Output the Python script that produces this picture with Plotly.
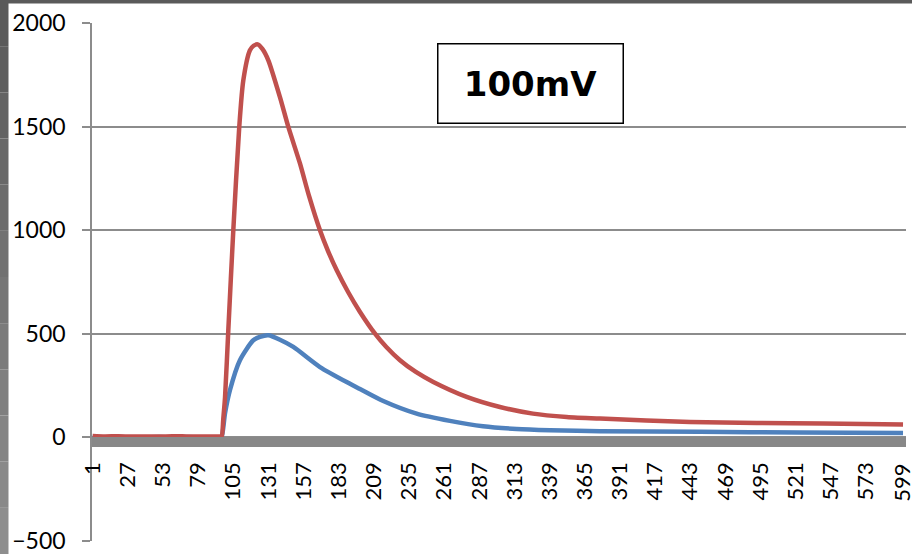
import plotly.graph_objects as go

# ---- data ----
red_x = [1, 10, 20, 30, 40, 50, 60, 70, 80, 90, 95.5, 96.4, 97.6, 98.9, 101.3, 105.0, 109.4,
         112.4, 117.3, 120.0, 123.0, 126.5, 130.9, 139.5, 145.7, 154.3, 161.0, 169.1, 175.0,
         181.5, 190.0, 198.7, 209.8, 218.0, 228.3, 240.0, 252.9, 277.6, 302.2, 326.6, 351.6,
         376.2, 442.8, 492.1, 541.1, 600.3]
red_y = [6, 4, 5, 3, 4, 3, 5, 4, 3, 4, 3, 3, 90, 194, 516, 999, 1498,
         1723, 1868, 1890, 1897, 1875, 1820, 1642, 1498, 1322, 1165, 999, 900,
         806, 700, 605, 500, 437, 372, 315, 267, 195, 146, 114, 98,
         90, 74, 69, 66, 61]

blue_x = [1, 10, 20, 30, 40, 50, 60, 70, 80, 90, 95.5, 96.4, 98.9, 102.5, 109.9, 119.8, 124.7,
          130.9, 139.5, 149.4, 169.1, 191.3, 198.7, 215.9, 240.6, 265.2, 289.7, 314.6,
          339.2, 376.2, 450.1, 524.1, 600.3]
blue_y = [1, 0, 1, 0, 0, 1, 0, 1, 0, 0, 1, 2, 116, 227, 372, 468, 484,
          492, 471, 436, 339, 258, 233, 175, 114, 79, 53, 40,
          34, 29, 26, 23, 21]

x_ticks = [1, 27, 53, 79, 105, 131, 157, 183, 209, 235, 261, 287, 313, 339, 365,
           391, 417, 443, 469, 495, 521, 547, 573, 599]
y_ticks = [-500, 0, 500, 1000, 1500, 2000]
label_text = "100mV"

RED = "#C0504D"
BLUE = "#4F81BD"
GRID = "#8C8C8C"

W, H = 912, 554
ML, MR, MT, MB = 92, 6, 23, 13
PW, PH = W - ML - MR, H - MT - MB
XPOS = 0.2 - 5.0 / PH

fig = go.Figure()
fig.add_trace(go.Scatter(x=blue_x, y=blue_y, mode="lines",
                         line=dict(color=BLUE, width=4.5, shape="spline", smoothing=0.7),
                         showlegend=False))
fig.add_trace(go.Scatter(x=red_x, y=red_y, mode="lines",
                         line=dict(color=RED, width=4.5, shape="spline", smoothing=0.7),
                         showlegend=False))

# decorative frame strips (window edge)
shapes = []
n = 12
for i in range(n):
    t = i / (n - 1)
    g = int(0x5A + (0x8E - 0x5A) * t)
    col = "#%02x%02x%02x" % (g, g, g)
    top_px = i * H / n
    bot_px = (i + 1) * H / n
    shapes.append(dict(type="rect", xref="paper", yref="paper",
                       x0=(0 - ML) / PW, x1=(8.5 - ML) / PW,
                       y0=(H - MB - bot_px) / PH, y1=(H - MB - top_px) / PH,
                       fillcolor=col, line=dict(width=0), layer="above"))
shapes.append(dict(type="rect", xref="paper", yref="paper",
                   x0=(0 - ML) / PW, x1=(W - ML) / PW,
                   y0=(H - MB - 3.5) / PH, y1=(H - MB) / PH,
                   fillcolor="#5A5A5A", line=dict(width=0), layer="above"))

annotations = [dict(text="<b>" + label_text + "</b>", xref="paper", yref="paper",
                    x=(530.5 - ML) / PW, y=(H - MB - 83) / PH,
                    xanchor="center", yanchor="middle", showarrow=False,
                    width=184, height=78, bgcolor="white",
                    bordercolor="black", borderwidth=1.5, borderpad=0,
                    font=dict(family="DejaVu Sans", size=34, color="black"))]
# last category label, drawn as text at the axis position (the axis hides it at the page edge)
annotations.append(dict(text=str(x_ticks[-1]), xref="x", x=x_ticks[-1],
                        yref="paper", y=XPOS, yanchor="top", xanchor="center",
                        yshift=-19, textangle=-90, showarrow=False,
                        font=dict(family="Lato", size=22, color="black")))

x_ticktext = [str(v) for v in x_ticks[:-1]] + [""]

fig.update_layout(
    width=W, height=H,
    margin=dict(l=ML, r=MR, t=MT, b=MB, pad=0, autoexpand=False),
    paper_bgcolor="white", plot_bgcolor="white",
    font=dict(family="Lato", size=22, color="black"),
    shapes=shapes,
    xaxis=dict(range=[0.5, 602.5], tickmode="array", tickvals=x_ticks,
               ticktext=x_ticktext, tickangle=-90,
               showgrid=False, zeroline=False, automargin=False,
               anchor="free", position=XPOS,
               showline=True, linecolor="#888888", linewidth=10,
               ticks="", ticklabelstandoff=6,
               tickfont=dict(family="Lato", size=22, color="black")),
    yaxis=dict(range=[-501, 2000], tickmode="array", tickvals=y_ticks,
               showgrid=True, gridcolor=GRID, gridwidth=1.5, zeroline=False,
               automargin=False,
               showline=True, linecolor=GRID, linewidth=1.5,
               ticks="outside", ticklen=8, tickcolor=GRID, tickwidth=1.5,
               ticklabelstandoff=12,
               tickfont=dict(family="Lato", size=23, color="black")),
    annotations=annotations,
)

fig.write_html("out.html")
